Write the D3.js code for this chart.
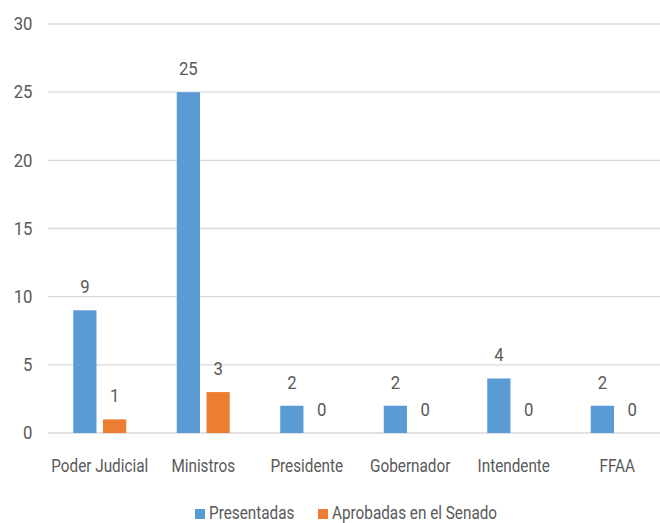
<!DOCTYPE html>
<html><head><meta charset="utf-8">
<script src="https://cdn.jsdelivr.net/npm/d3@7"></script>
<style>
body{margin:0;background:#fff;}
svg text{font-family:Roboto,"Open Sans",sans-serif;fill:#595959;}
</style></head>
<body><svg id="c" width="660" height="523"></svg>
<script>
const categories = ["Poder Judicial","Ministros","Presidente","Gobernador","Intendente","FFAA"];
const presentadas = [9,25,2,2,4,2];
const aprobadas = [1,3,0,0,0,0];
const seriesNames = ["Presentadas","Aprobadas en el Senado"];
const seriesColors = ["#5B9BD5","#ED7D31"];
const yTicks = [0,5,10,15,20,25,30];

const FS = 18, SXN = 0.93, SXW = 0.85;
const svg = d3.select("#c");
const mLeft = 48, mRight = 669, mTop = 24, mBottom = 433;
const x = d3.scaleBand().domain(categories).range([mLeft, mRight]).paddingInner(0).paddingOuter(0);
const y = d3.scaleLinear().domain([0,30]).range([mBottom, mTop]);
const x1 = d3.scaleBand().domain([0,1]).range([x.bandwidth()/2 - 26.5, x.bandwidth()/2 + 26.5]).paddingInner(0.22);

// gridlines
svg.append("g").selectAll("line").data(yTicks).join("line")
  .attr("x1", mLeft).attr("x2", 660)
  .attr("y1", d=>y(d)).attr("y2", d=>y(d))
  .attr("stroke", "#d9d9d9").attr("stroke-width", 1.3);

// y axis labels
const yAxis = d3.axisLeft(y).tickValues(yTicks).tickSize(0).tickPadding(15.5/SXN);
const ga = svg.append("g").attr("transform", `translate(${mLeft},0)`).call(yAxis);
ga.select(".domain").remove();
ga.attr("font-family", null).attr("font-size", null);
ga.selectAll("text").attr("font-size", FS).attr("fill","#595959").attr("transform", `scale(${SXN},1)`);

// x axis labels
const xAxis = d3.axisBottom(x).tickSize(0).tickPadding(26.2);
const gx = svg.append("g").attr("transform", `translate(0,${mBottom})`).call(xAxis);
gx.select(".domain").remove();
gx.attr("font-family", null).attr("font-size", null);
gx.selectAll("text").attr("font-size", FS).attr("fill","#595959").attr("transform", `scale(${SXW},1)`);

const data = categories.map((c,i)=>({c, vals:[presentadas[i], aprobadas[i]]}));
const groups = svg.append("g").selectAll("g").data(data).join("g")
  .attr("transform", d=>`translate(${x(d.c)},0)`);
groups.selectAll("rect").data(d=>d.vals.map((v,s)=>({v,s}))).join("rect")
  .attr("x", d=>x1(d.s)).attr("width", x1.bandwidth())
  .attr("y", d=>y(d.v)).attr("height", d=>y(0)-y(d.v))
  .attr("fill", d=>seriesColors[d.s]);
groups.selectAll("text.v").data(d=>d.vals.map((v,s)=>({v,s}))).join("text")
  .attr("class","v")
  .attr("transform", d=>`translate(${x1(d.s)+x1.bandwidth()/2},${y(d.v)-17}) scale(${SXN},1)`)
  .attr("text-anchor","middle").attr("font-size",FS)
  .text(d=>d.v);

// legend
const leg = svg.append("g").attr("transform","translate(0,519)");
const legX = [195, 318];
seriesNames.forEach((n,i)=>{
  leg.append("rect").attr("x", legX[i]).attr("y", -10).attr("width", 10).attr("height", 10).attr("fill", seriesColors[i]);
  leg.append("text").attr("transform", `translate(${legX[i]+14},0) scale(${SXW},1)`).attr("font-size",FS).text(n);
});
</script></body></html>
